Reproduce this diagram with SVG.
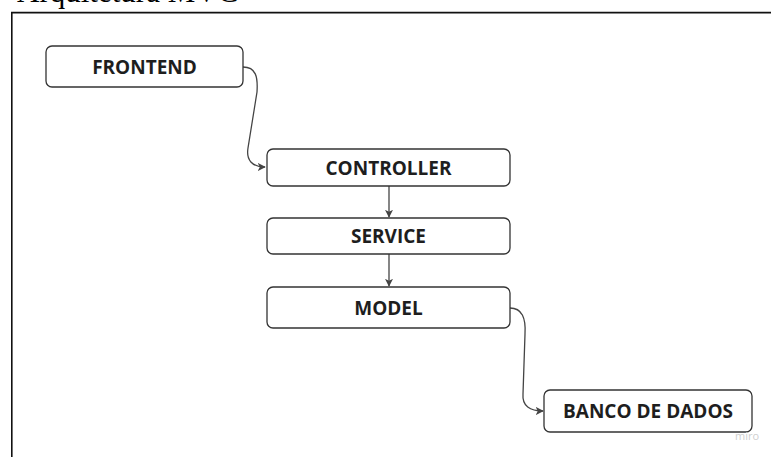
<svg xmlns="http://www.w3.org/2000/svg" width="771" height="457" viewBox="0 0 771 457">
  <defs>
    <style>
      .node rect { fill: #ffffff; stroke: #333333; stroke-width: 1.3; }
      .node text { font-family: "Open Sans", "Noto Sans", "Liberation Sans", sans-serif; font-weight: bold; font-size: 19px; fill: #1e1e1e; text-anchor: middle; }
      .conn path { fill: none; stroke: #444444; stroke-width: 1.3; }
      .title { font-family: "Liberation Serif", serif; font-size: 31px; fill: #000000; }
      .frame { fill: none; stroke: #111111; stroke-width: 1.6; }
      .wm { font-family: "Open Sans", "Liberation Sans", sans-serif; font-size: 11px; fill: #cfcfcf; }
    </style>
    <marker id="arrow" viewBox="0 0 10 10" refX="9" refY="5" markerWidth="8" markerHeight="8" markerUnits="userSpaceOnUse" orient="auto">
      <path d="M0,0 L10,5 L0,10 L2.5,5 Z" fill="#444444"/>
    </marker>
  </defs>
  <rect width="771" height="457" fill="#ffffff"/>
  <text class="title" x="17" y="2">Arquitetura MVC</text>
  <path class="frame" d="M11.8,460 L11.8,12.6 L775,12.6"/>

  <g id="connectors" class="conn">
    <path d="M243,67 C256,67 258,77 257,92 L248,148 C246,160 252,167 265,167" marker-end="url(#arrow)"/>
    <path d="M389,186 L389,217" marker-end="url(#arrow)"/>
    <path d="M389,254 L389,286" marker-end="url(#arrow)"/>
    <path d="M510,308 C522,308 526,318 525,334 L523,394 C522,406 530,411 543,411" marker-end="url(#arrow)"/>
  </g>

  <g id="frontend" class="node">
    <rect x="46" y="46" width="197" height="41" rx="6"/>
    <text x="144.5" y="74">FRONTEND</text>
  </g>
  <g id="controller" class="node">
    <rect x="267" y="149" width="243" height="37" rx="6"/>
    <text x="388.5" y="175">CONTROLLER</text>
  </g>
  <g id="service" class="node">
    <rect x="267" y="218" width="243" height="36" rx="6"/>
    <text x="388.5" y="243">SERVICE</text>
  </g>
  <g id="model" class="node">
    <rect x="267" y="287" width="243" height="41" rx="6"/>
    <text x="388.5" y="315">MODEL</text>
  </g>
  <g id="banco" class="node">
    <rect x="544" y="390" width="208" height="42" rx="6"/>
    <text x="648" y="418">BANCO DE DADOS</text>
  </g>
  <text class="wm" x="735" y="440">miro</text>
</svg>
